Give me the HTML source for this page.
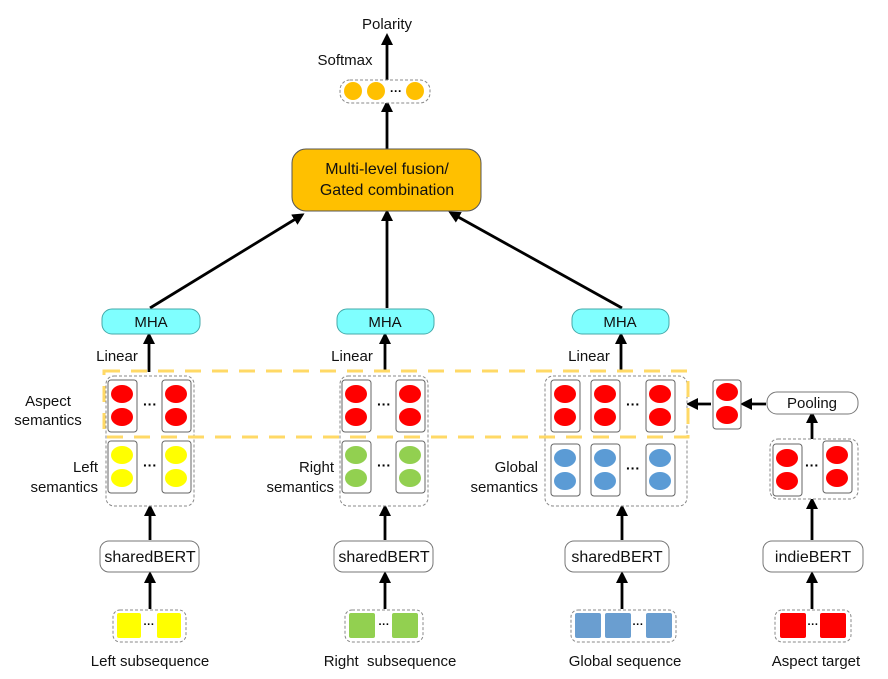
<!DOCTYPE html>
<html><head><meta charset="utf-8"><style>
html,body{margin:0;padding:0;background:#fff;}
svg{display:block;font-family:"Liberation Sans","DejaVu Sans",sans-serif;}
</style></head><body>
<svg width="888" height="679" viewBox="0 0 888 679" xmlns="http://www.w3.org/2000/svg">
<defs>
<marker id="ah" markerWidth="12" markerHeight="12" refX="9" refY="6" orient="auto" markerUnits="userSpaceOnUse">
<path d="M0,0 L12,6 L0,12 Z" fill="#000"/></marker>
</defs>
<g font-size="15" fill="#111">
<text x="387" y="29" text-anchor="middle">Polarity</text>
<text x="345" y="65" text-anchor="middle">Softmax</text>
</g>
<g stroke="#000" stroke-width="2.8" marker-end="url(#ah)">
<line x1="387" y1="80" x2="387" y2="36"/>
<line x1="387" y1="149" x2="387" y2="103"/>
<line x1="150" y1="308" x2="302" y2="215"/>
<line x1="387" y1="308" x2="387" y2="212"/>
<line x1="622" y1="308" x2="451" y2="213"/>
<line x1="149" y1="372" x2="149" y2="335"/>
<line x1="385" y1="372" x2="385" y2="335"/>
<line x1="621" y1="372" x2="621" y2="335"/>
<line x1="150" y1="540" x2="150" y2="507"/>
<line x1="385" y1="540" x2="385" y2="507"/>
<line x1="622" y1="540" x2="622" y2="507"/>
<line x1="812" y1="540" x2="812" y2="500"/>
<line x1="812" y1="439" x2="812" y2="414"/>
<line x1="150" y1="609" x2="150" y2="574"/>
<line x1="385" y1="609" x2="385" y2="574"/>
<line x1="622" y1="609" x2="622" y2="574"/>
<line x1="812" y1="609" x2="812" y2="574"/>
<line x1="766" y1="404" x2="743" y2="404"/>
<line x1="711" y1="404" x2="689" y2="404"/>
</g>
<rect x="340" y="80" width="90" height="23" rx="10" fill="#fff" stroke="#888" stroke-dasharray="3,2"/>
<g fill="#FFC000"><circle cx="353" cy="91" r="9"/><circle cx="376" cy="91" r="9"/><circle cx="415" cy="91" r="9"/></g>
<text x="396" y="95" font-size="12" text-anchor="middle" font-weight="bold">···</text>
<rect x="292" y="149" width="189" height="62" rx="14" fill="#FFC000" stroke="#555" stroke-width="1"/>
<text x="387" y="174" font-size="16" text-anchor="middle" fill="#111">Multi-level fusion/</text>
<text x="387" y="195" font-size="16" text-anchor="middle" fill="#111">Gated combination</text>
<g fill="#7FFFFF" stroke="#4aa" stroke-width="1">
<rect x="102" y="309" width="98" height="25" rx="10"/>
<rect x="337" y="309" width="97" height="25" rx="10"/>
<rect x="572" y="309" width="97" height="25" rx="10"/>
</g>
<g font-size="15" fill="#111" text-anchor="middle">
<text x="151" y="327">MHA</text><text x="385" y="327">MHA</text><text x="620" y="327">MHA</text>
<text x="117" y="361">Linear</text><text x="352" y="361">Linear</text><text x="589" y="361">Linear</text>
<text x="48" y="406">Aspect</text><text x="48" y="425">semantics</text>
</g>
<g font-size="15" fill="#111" text-anchor="end">
<text x="98" y="472">Left</text><text x="98" y="492">semantics</text>
<text x="334" y="472">Right</text><text x="334" y="492">semantics</text>
<text x="538" y="472">Global</text><text x="538" y="492">semantics</text>
</g>
<g fill="#fff" stroke="#888" stroke-dasharray="3,2">
<rect x="106" y="376" width="88" height="130" rx="8"/>
<rect x="340" y="376" width="88" height="130" rx="8"/>
<rect x="545" y="376" width="142" height="130" rx="8"/>
<rect x="770" y="439" width="88" height="60" rx="8"/>
</g>
<g fill="#fff" stroke="#666" stroke-width="1">
<rect x="108" y="380" width="29" height="52" rx="3"/><rect x="162" y="380" width="29" height="52" rx="3"/>
<rect x="108" y="441" width="29" height="52" rx="3"/><rect x="162" y="441" width="29" height="52" rx="3"/>
<rect x="342" y="380" width="29" height="52" rx="3"/><rect x="396" y="380" width="29" height="52" rx="3"/>
<rect x="342" y="441" width="29" height="52" rx="3"/><rect x="396" y="441" width="29" height="52" rx="3"/>
<rect x="551" y="380" width="29" height="52" rx="3"/><rect x="591" y="380" width="29" height="52" rx="3"/><rect x="646" y="380" width="29" height="52" rx="3"/>
<rect x="551" y="444" width="29" height="52" rx="3"/><rect x="591" y="444" width="29" height="52" rx="3"/><rect x="646" y="444" width="29" height="52" rx="3"/>
<rect x="713" y="380" width="28" height="49" rx="3"/>
<rect x="773" y="444" width="29" height="52" rx="3"/><rect x="823" y="441" width="29" height="52" rx="3"/>
</g>
<g fill="#FF0000">
<ellipse cx="122" cy="394" rx="11" ry="9"/><ellipse cx="122" cy="417" rx="11" ry="9"/>
<ellipse cx="176" cy="394" rx="11" ry="9"/><ellipse cx="176" cy="417" rx="11" ry="9"/>
<ellipse cx="356" cy="394" rx="11" ry="9"/><ellipse cx="356" cy="417" rx="11" ry="9"/>
<ellipse cx="410" cy="394" rx="11" ry="9"/><ellipse cx="410" cy="417" rx="11" ry="9"/>
<ellipse cx="565" cy="394" rx="11" ry="9"/><ellipse cx="565" cy="417" rx="11" ry="9"/>
<ellipse cx="605" cy="394" rx="11" ry="9"/><ellipse cx="605" cy="417" rx="11" ry="9"/>
<ellipse cx="660" cy="394" rx="11" ry="9"/><ellipse cx="660" cy="417" rx="11" ry="9"/>
<ellipse cx="727" cy="392" rx="11" ry="9"/><ellipse cx="727" cy="415" rx="11" ry="9"/>
<ellipse cx="787" cy="458" rx="11" ry="9"/><ellipse cx="787" cy="481" rx="11" ry="9"/>
<ellipse cx="837" cy="455" rx="11" ry="9"/><ellipse cx="837" cy="478" rx="11" ry="9"/>
</g>
<g fill="#FFFF00">
<ellipse cx="122" cy="455" rx="11" ry="9"/><ellipse cx="122" cy="478" rx="11" ry="9"/>
<ellipse cx="176" cy="455" rx="11" ry="9"/><ellipse cx="176" cy="478" rx="11" ry="9"/>
</g>
<g fill="#92D050">
<ellipse cx="356" cy="455" rx="11" ry="9"/><ellipse cx="356" cy="478" rx="11" ry="9"/>
<ellipse cx="410" cy="455" rx="11" ry="9"/><ellipse cx="410" cy="478" rx="11" ry="9"/>
</g>
<g fill="#5B9BD5">
<ellipse cx="565" cy="458" rx="11" ry="9"/><ellipse cx="565" cy="481" rx="11" ry="9"/>
<ellipse cx="605" cy="458" rx="11" ry="9"/><ellipse cx="605" cy="481" rx="11" ry="9"/>
<ellipse cx="660" cy="458" rx="11" ry="9"/><ellipse cx="660" cy="481" rx="11" ry="9"/>
</g>
<g font-size="14" font-weight="bold" fill="#000" text-anchor="middle">
<text x="150" y="409">···</text><text x="150" y="470">···</text>
<text x="384" y="409">···</text><text x="384" y="470">···</text>
<text x="633" y="409">···</text><text x="633" y="473">···</text>
<text x="812" y="470">···</text>
</g>
<rect x="104" y="371" width="584" height="66" fill="none" stroke="#FFD966" stroke-width="3" stroke-dasharray="16,11"/>
<rect x="767" y="392" width="91" height="22" rx="10" fill="#fff" stroke="#777"/>
<text x="812" y="408" font-size="15" text-anchor="middle" fill="#111">Pooling</text>
<g fill="#fff" stroke="#777">
<rect x="100" y="541" width="99" height="31" rx="9"/>
<rect x="334" y="541" width="99" height="31" rx="9"/>
<rect x="565" y="541" width="104" height="31" rx="9"/>
<rect x="763" y="541" width="100" height="31" rx="9"/>
</g>
<g font-size="16" fill="#111" text-anchor="middle">
<text x="150" y="562">sharedBERT</text><text x="384" y="562">sharedBERT</text>
<text x="617" y="562">sharedBERT</text><text x="813" y="562">indieBERT</text>
</g>
<g fill="#fff" stroke="#888" stroke-dasharray="3,2">
<rect x="113" y="610" width="73" height="32" rx="7"/>
<rect x="345" y="610" width="78" height="32" rx="7"/>
<rect x="571" y="610" width="105" height="32" rx="7"/>
<rect x="775" y="610" width="76" height="32" rx="7"/>
</g>
<rect x="117" y="613" width="24" height="25" rx="2" fill="#FFFF00"/><rect x="157" y="613" width="24" height="25" rx="2" fill="#FFFF00"/>
<rect x="349" y="613" width="26" height="25" rx="2" fill="#92D050"/><rect x="392" y="613" width="26" height="25" rx="2" fill="#92D050"/>
<rect x="575" y="613" width="26" height="25" rx="2" fill="#6A9ED0"/><rect x="605" y="613" width="26" height="25" rx="2" fill="#6A9ED0"/><rect x="646" y="613" width="26" height="25" rx="2" fill="#6A9ED0"/>
<rect x="780" y="613" width="26" height="25" rx="2" fill="#FF0000"/><rect x="820" y="613" width="26" height="25" rx="2" fill="#FF0000"/>
<g font-size="11" font-weight="bold" fill="#000" text-anchor="middle">
<text x="149" y="628">···</text><text x="384" y="628">···</text><text x="638" y="628">···</text><text x="813" y="628">···</text>
</g>
<g font-size="15" fill="#111" text-anchor="middle">
<text x="150" y="666">Left subsequence</text>
<text x="390" y="666" xml:space="preserve">Right  subsequence</text>
<text x="625" y="666">Global sequence</text>
<text x="816" y="666">Aspect target</text>
</g>
</svg>
</body></html>
